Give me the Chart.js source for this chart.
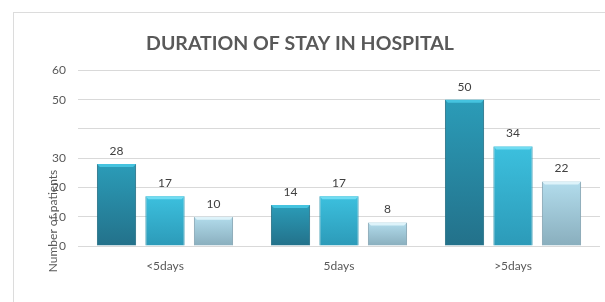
<!DOCTYPE html>
<html lang="en">
<head>
  <meta charset="UTF-8">
  <title>Duration of stay in hospital</title>
  <script src="https://cdn.jsdelivr.net/npm/chart.js"></script>
  <style>
    html, body { margin: 0; padding: 0; background: #ffffff; }
    .chart-box { width: 605px; height: 302px; }
  </style>
</head>
<body>
  <div class="chart-box">
    <canvas id="stayChart" width="605" height="302"></canvas>
  </div>

  <script>
    // chart values
    const categories = ['<5days', '5days', '>5days'];
    const seriesA = [28, 14, 50];
    const seriesB = [17, 17, 34];
    const seriesC = [10, 8, 22];
    const yTickLabels = ['0', '10', '20', '30', '', '50', '60'];

    const titleText = 'DURATION OF STAY IN HOSPITAL';
    const yAxisText = 'Number of patients';

    // top / bottom colours of each series, plus the lighter bevel on top
    const shades = [
      { top: '#2b9cb8', bottom: '#23718a', edge: '#45c3df' },
      { top: '#3cc0de', bottom: '#2c9ab8', edge: '#70dcf2' },
      { top: '#b2dcec', bottom: '#89aebd', edge: '#def3fa' }
    ];

    function barFill(i) {
      return function(context) {
        const chart = context.chart;
        const y = chart.scales && chart.scales.y;
        if (!chart.chartArea || !y || context.raw == null) return shades[i].top;
        const top = y.getPixelForValue(context.raw);
        const bottom = y.getPixelForValue(0);
        const g = chart.ctx.createLinearGradient(0, top, 0, bottom);
        g.addColorStop(0, shades[i].top);
        g.addColorStop(1, shades[i].bottom);
        return g;
      };
    }

    // frame, y title, bevels and value labels
    const decor = {
      id: 'decor',
      beforeDraw(chart) {
        const ctx = chart.ctx;
        ctx.save();
        ctx.strokeStyle = '#dcdcdc';
        ctx.lineWidth = 1;
        ctx.strokeRect(13.5, 12.5, chart.width + 20, chart.height + 20);
        ctx.restore();
      },
      afterDatasetsDraw(chart) {
        const ctx = chart.ctx;
        ctx.save();
        chart.data.datasets.forEach(function(ds, i) {
          const meta = chart.getDatasetMeta(i);
          meta.data.forEach(function(bar, j) {
            const half = bar.width / 2;
            // bevel strip along the top
            ctx.fillStyle = shades[i].edge;
            ctx.beginPath();
            ctx.moveTo(bar.x - half, bar.y);
            ctx.lineTo(bar.x + half, bar.y);
            ctx.lineTo(bar.x + half - 3, bar.y + 3);
            ctx.lineTo(bar.x - half + 3, bar.y + 3);
            ctx.closePath();
            ctx.fill();
            // value label
            ctx.fillStyle = '#404040';
            ctx.font = '12px Lato';
            ctx.textAlign = 'center';
            ctx.textBaseline = 'middle';
            ctx.fillText(String(ds.data[j]), bar.x, bar.y - 13);
          });
        });
        // y axis title, overlapping the tick labels as in the original
        ctx.translate(53.5, 221);
        ctx.rotate(-Math.PI / 2);
        ctx.fillStyle = '#595959';
        ctx.font = '12px Lato';
        ctx.textAlign = 'center';
        ctx.textBaseline = 'middle';
        ctx.fillText(yAxisText, 0, 0);
        ctx.restore();
      }
    };

    const ctx = document.getElementById('stayChart').getContext('2d');
    new Chart(ctx, {
      type: 'bar',
      data: {
        labels: categories,
        datasets: [
          { label: 'A', data: seriesA, backgroundColor: barFill(0), borderColor: '#1f6a80' },
          { label: 'B', data: seriesB, backgroundColor: barFill(1), borderColor: '#2a93ad' },
          { label: 'C', data: seriesC, backgroundColor: barFill(2), borderColor: '#7f9fae' }
        ]
      },
      options: {
        responsive: false,
        animation: false,
        devicePixelRatio: 1,
        layout: { padding: { left: 0, right: 5, top: 0, bottom: 26 } },
        datasets: {
          bar: {
            categoryPercentage: 0.836,
            barPercentage: 0.81,
            borderWidth: 1
          }
        },
        plugins: {
          legend: { display: false },
          tooltip: { enabled: false },
          title: {
            display: true,
            text: titleText,
            color: '#595959',
            font: { family: 'Lato', size: 19.5, weight: 'bold' },
            padding: { top: 32, bottom: 15 }
          }
        },
        scales: {
          x: {
            grid: { display: false, drawTicks: false },
            border: { display: false },
            ticks: { color: '#595959', font: { family: 'Lato', size: 12 }, padding: 13 },
            afterFit(scale) { scale.height = 30; }
          },
          y: {
            min: 0,
            max: 60,
            grid: { color: '#d9d9d9', drawTicks: false },
            border: { display: false },
            ticks: {
              stepSize: 10,
              color: '#595959',
              font: { family: 'Lato', size: 12 },
              padding: 12,
              callback: function(value, index) { return yTickLabels[index]; }
            },
            afterFit(scale) { scale.width = 78; }
          }
        }
      },
      plugins: [decor]
    });
  </script>
</body>
</html>
